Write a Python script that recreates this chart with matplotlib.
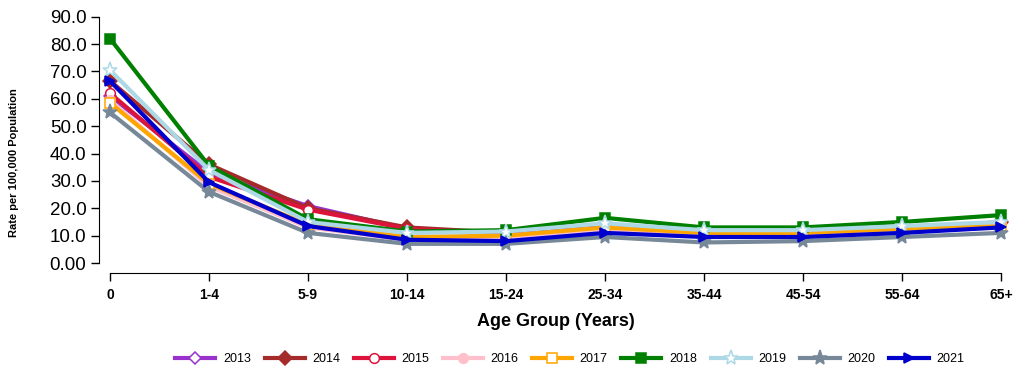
import matplotlib
matplotlib.use("Agg")
import matplotlib.pyplot as plt

plt.rcParams['font.family'] = ['Liberation Sans', 'DejaVu Sans']

age_groups = ['0', '1-4', '5-9', '10-14', '15-24', '25-34', '35-44', '45-54', '55-64', '65+']

r2013 = [61.0, 33.0, 20.8, 12.5, 10.5, 12.5, 10.5, 10.5, 12.0, 14.5]
r2014 = [66.5, 36.0, 20.0, 13.0, 11.0, 13.0, 10.5, 10.5, 12.0, 15.0]
r2015 = [62.0, 31.5, 19.5, 12.5, 10.5, 13.0, 10.5, 10.5, 12.0, 14.5]
r2016 = [59.5, 28.0, 13.0, 8.5, 9.0, 12.0, 10.0, 10.0, 11.5, 14.5]
r2017 = [58.5, 29.0, 14.0, 9.5, 10.0, 13.0, 11.0, 11.0, 12.5, 13.5]
r2018 = [82.0, 35.5, 16.0, 11.5, 12.0, 16.5, 13.0, 13.0, 15.0, 17.5]
r2019 = [70.5, 34.0, 15.0, 11.0, 11.5, 14.5, 12.0, 12.0, 13.5, 15.0]
r2020 = [55.0, 26.0, 11.0, 7.0, 7.0, 9.5, 7.5, 8.0, 9.5, 11.0]
r2021 = [66.5, 29.5, 13.5, 8.5, 8.0, 11.0, 9.5, 9.5, 11.0, 13.0]

years = ['2013', '2014', '2015', '2016', '2017', '2018', '2019', '2020', '2021']
series = [r2013, r2014, r2015, r2016, r2017, r2018, r2019, r2020, r2021]

# colour, marker, filled?, marker size
styles = [
    ('#9932CC', 'D', False, 6),
    ('#A52A2A', 'D', True, 7),
    ('#DC143C', 'o', False, 7),
    ('#FFC0CB', 'o', True, 7),
    ('#FFA500', 's', False, 7),
    ('#008000', 's', True, 6.5),
    ('#ADD8E6', '*', False, 11),
    ('#778899', '*', True, 11),
    ('#0000CD', '>', True, 7.5),
]

W, H = 1018, 371
fig = plt.figure(figsize=(W / 100, H / 100), dpi=100)
ax = fig.add_axes([99 / W, 1 - 273 / H, (1012 - 99) / W, (273 - 10) / H])

x = list(range(len(age_groups)))
for yr, vals, (col, mk, filled, ms) in zip(years, series, styles):
    ax.plot(x, vals, color=col, lw=3.0, marker=mk, ms=ms,
            mfc=col if filled else 'white', mec=col, mew=1.1, label=yr)

ax.set_xlim(-11 / 99, 9 + 11 / 99)
ax.set_ylim((263 - 273) / 2.737, (263 - 10) / 2.737)

for s in ['top', 'right']:
    ax.spines[s].set_visible(False)
ax.spines['left'].set_bounds(0, 90)
ax.spines['bottom'].set_bounds(0, 9)

ax.set_yticks(range(0, 91, 10))
ax.set_yticklabels(['0.00'] + ['%.1f' % v for v in range(10, 91, 10)], fontsize=13.5)
ax.set_xticks(x)
ax.set_xticklabels(age_groups, fontsize=10, fontweight='bold')
ax.tick_params(axis='y', length=6, width=1, pad=3)
ax.tick_params(axis='x', length=6, width=1, pad=5)

ax.set_xlabel('Age Group (Years)', fontsize=13, fontweight='bold', labelpad=8)
fig.text(14 / W, 1 - 163 / H, 'Rate per 100,000 Population', rotation=90,
         fontsize=8, fontweight='bold', ha='center', va='center')

fig.legend(loc='center', bbox_to_anchor=(570 / W, 1 - 359 / H), ncol=9,
           frameon=False, fontsize=9, handlelength=3.2, columnspacing=1.1,
           handletextpad=0.6)

fig.savefig('out.png', dpi=100)
